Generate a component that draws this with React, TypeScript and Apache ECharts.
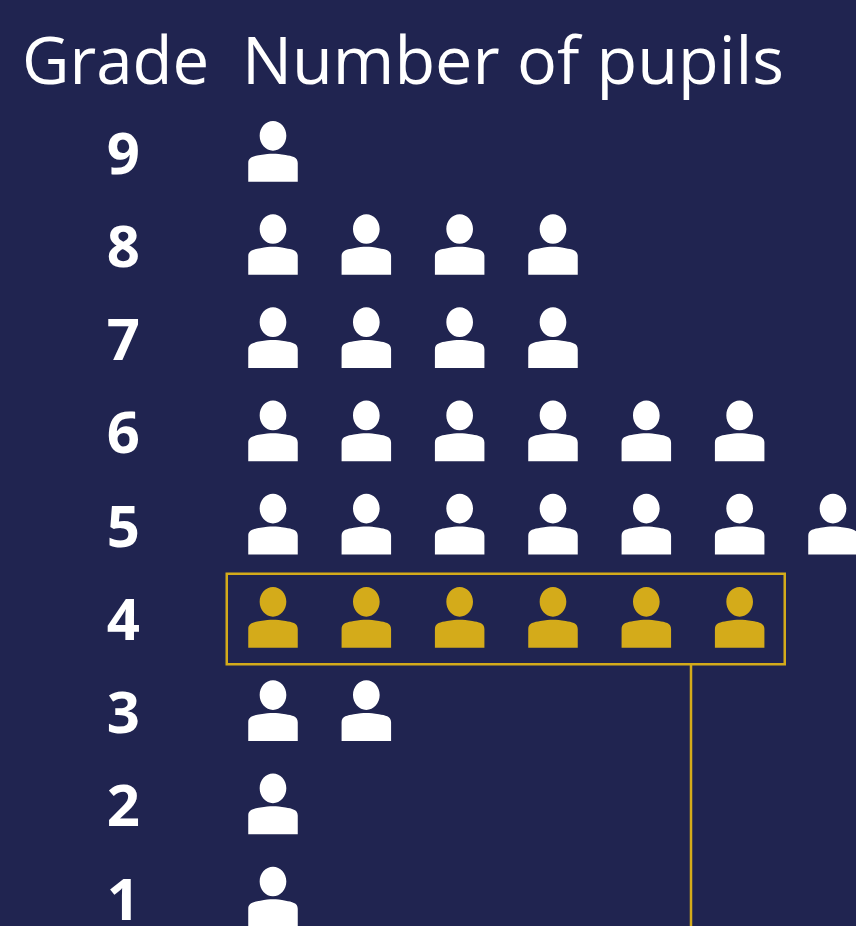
import React, { useEffect, useRef } from "react";
import * as echarts from "echarts";

const grades = [1, 2, 3, 4, 5, 6, 7, 8, 9];
const pupils = [1, 1, 2, 6, 7, 6, 4, 4, 1];
const highlightedGrade = 4;
const gradeHeading = "Grade";
const pupilsHeading = "Number of pupils";

const BG = "#202450";
const GOLD = "#d4ab1a";
const WHITE = "#ffffff";

const personIcon =
  "path://M24.5 0C31.8 0 37.7 6.6 37.7 14.8C37.7 23 31.8 29.7 24.5 29.7C17.2 29.7 11.3 23 11.3 14.8C11.3 6.6 17.2 0 24.5 0Z" +
  "M0 60.7V42C0 36 6 35 12 34C17 33 21 32.7 24.5 32.7C28 32.7 32 33 37 34C43 35 49 36 49 42V60.7Z";

function pointsWhere(test: (g: number) => boolean) {
  const out: [number, number][] = [];
  grades.forEach((g, gi) => {
    if (!test(g)) return;
    for (let n = 1; n <= pupils[gi]; n++) out.push([n, g]);
  });
  return out;
}

export default function App() {
  const ref = useRef<HTMLDivElement>(null);
  useEffect(() => {
    document.body.style.margin = "0";
    document.body.style.background = BG;
    document.body.style.overflow = "hidden";
    const chart = echarts.init(ref.current!, null, { renderer: "svg" });
    const marker = {
      type: "scatter" as const,
      symbol: personIcon,
      symbolSize: [49.5, 60.7],
      clip: false,
      silent: true,
    };
    const headingStyle = { color: WHITE, fontFamily: "Open Sans", fontWeight: 400, lineHeight: 84 };
    chart.setOption({
      animation: false,
      backgroundColor: BG,
      title: [
        { text: gradeHeading, left: 22, top: 16, padding: 0, textStyle: { ...headingStyle, fontSize: 65.3 } },
        { text: pupilsHeading, left: 242, top: 16, padding: 0, textStyle: { ...headingStyle, fontSize: 66.5 } },
      ],
      grid: { left: 226.33, top: 0, right: 0, bottom: 0 },
      xAxis: {
        type: "value",
        min: 0.5,
        max: 7.2465,
        show: false,
      },
      yAxis: {
        type: "value",
        min: 0.7,
        max: 10.623,
        axisLine: { show: false },
        axisTick: { show: false },
        splitLine: { show: false },
        axisLabel: {
          customValues: grades,
          color: WHITE,
          fontFamily: "Open Sans",
          fontWeight: 700,
          fontSize: 58,
          lineHeight: 44,
          align: "center",
          margin: 103,
          padding: [8, 0, 0, 0],
        },
      },
      series: [
        {
          ...marker,
          name: "Pupils",
          data: pointsWhere((g) => g !== highlightedGrade),
          itemStyle: { color: WHITE, opacity: 1 },
        },
        {
          ...marker,
          name: "Highlighted",
          data: pointsWhere((g) => g === highlightedGrade),
          itemStyle: { color: GOLD, opacity: 1 },
        },
      ],
      graphic: [
        {
          type: "rect",
          shape: { x: 226.75, y: 573.75, width: 558, height: 90.5 },
          style: { fill: "none", stroke: GOLD, lineWidth: 2.5 },
          silent: true,
        },
        {
          type: "line",
          shape: { x1: 691, y1: 664, x2: 691, y2: 926 },
          style: { stroke: GOLD, lineWidth: 2.5 },
          silent: true,
        },
      ],
    });
    return () => chart.dispose();
  }, []);
  return <div ref={ref} style={{ width: 856, height: 926 }} />;
}
